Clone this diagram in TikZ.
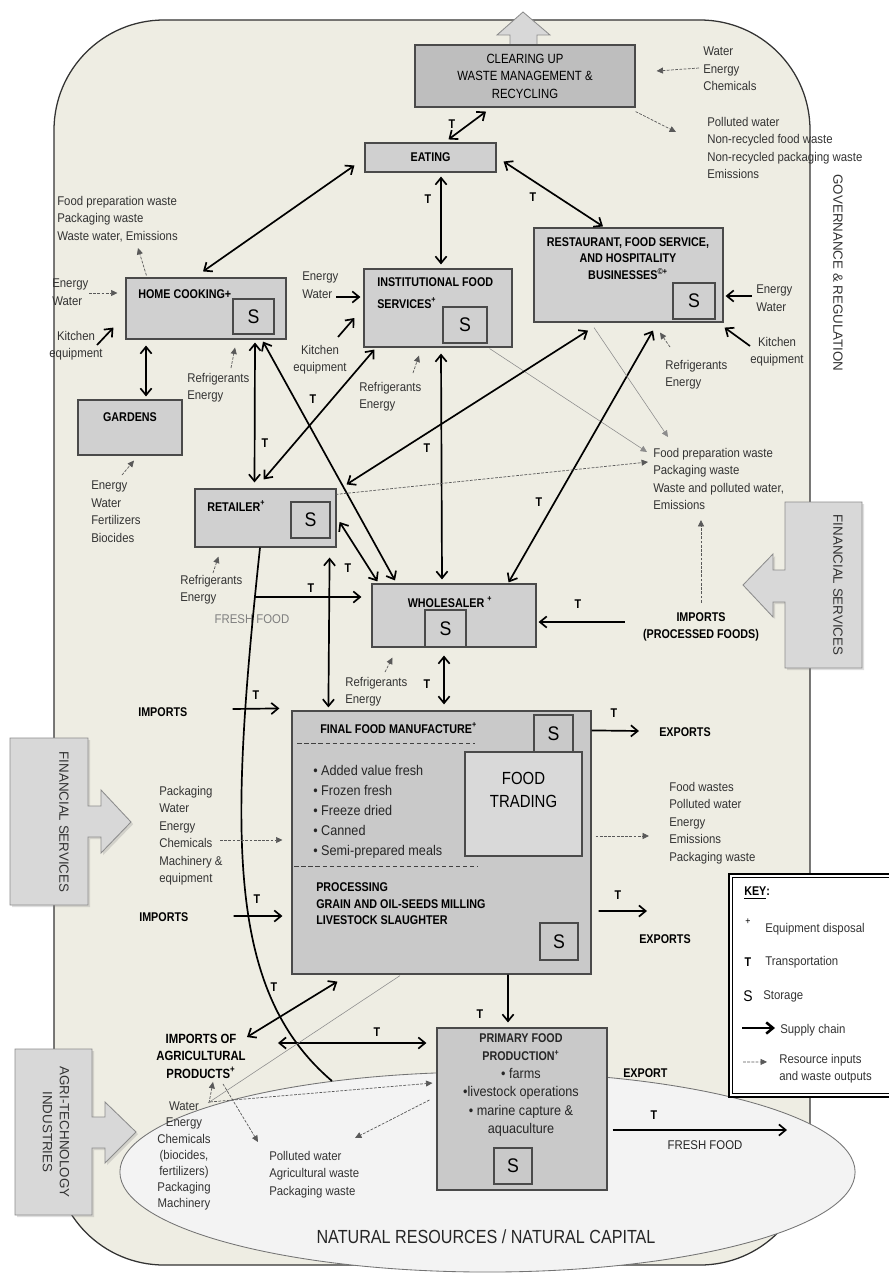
\documentclass[tikz,border=0pt]{standalone}
\usepackage{fontspec}
\setmainfont{Liberation Sans}[FakeStretch=0.9]
\newfontfamily\lblfont{Liberation Sans}[FakeStretch=0.9]
\newfontfamily\bxfont{Liberation Sans}[FakeStretch=0.85]
\newfontfamily\wdfont{Liberation Sans}
\usetikzlibrary{calc,arrows.meta,shapes.geometric,shadows}
\definecolor{panel}{HTML}{EEEDE3}
\definecolor{boxgray}{HTML}{D0D0D0}
\definecolor{cleargray}{HTML}{BEBEBE}
\definecolor{mangray}{HTML}{C9C9C9}
\definecolor{edgegray}{HTML}{4A4A4A}
\definecolor{labelgray}{HTML}{333333}
\definecolor{natfill}{HTML}{F3F3F3}
\definecolor{finfill}{HTML}{D8D8D8}

\begin{document}
\begin{tikzpicture}[x=0.025cm, y=-0.025cm,
    >={Straight Barb[length=1.7mm,width=2.8mm]},
    box/.style={draw=edgegray, line width=0.8pt, fill=boxgray, inner sep=0pt},
    sbox/.style={box, font=\lblfont\fontsize{14}{14}\selectfont},
    title/.style={inner sep=0pt, font=\bxfont\bfseries\fontsize{9}{12}\selectfont},
    lab/.style={inner sep=0pt, align=left, text=labelgray, font=\lblfont\fontsize{9}{12.4}\selectfont},
    tlab/.style={inner sep=0pt, font=\bxfont\bfseries\fontsize{9}{9}\selectfont},
    flow/.style={->, line width=1.2pt},
    both/.style={<->, line width=1.2pt},
    res/.style={-{Triangle[length=1.6mm,width=1.5mm]}, dash pattern=on 2pt off 1pt, line width=0.5pt, draw=black!65},
    faint/.style={-{Triangle[length=1.6mm,width=1.5mm]}, line width=0.4pt, draw=black!45},
    sepline/.style={dash pattern=on 3pt off 2pt, line width=0.8pt, draw=black!75},
    uparrow/.style={draw=black!45, line width=0.6pt, fill=finfill},
    finpanel/.style={uparrow, drop shadow={opacity=0.25, shadow xshift=1.5pt, shadow yshift=-1.5pt}},
    side/.style={inner sep=0pt, rotate=-90, align=center, text=black!80, font=\wdfont\fontsize{9.5}{12}\selectfont}
  ]
    \useasboundingbox (0,0) rectangle (888,1274);
    \fill[white] (0,0) rectangle (888,1274);
    \draw[draw=black!80, line width=0.9pt, fill=panel, rounded corners=2.75cm] (54,20) rectangle (810,1265);
    \node[ellipse, draw=black!55, line width=0.6pt, fill=natfill, minimum width=18.375cm, minimum height=5cm, inner sep=0pt] (nature) at (487.5,1172) {};

    \draw[uparrow] (537,45) -- (537,35) -- (550,35) -- (523,12) -- (497,35) -- (510,35) -- (510,45);
    \draw[finpanel] (10,738) -- (88,738) -- (88,806) -- (101,806) -- (101,790) -- (131,822) -- (101,853) -- (101,837) -- (88,837) -- (88,905) -- (10,905) -- cycle;
    \draw[finpanel] (862,502) -- (785,502) -- (785,570) -- (773,570) -- (773,554) -- (743,585) -- (773,617) -- (773,602) -- (785,602) -- (785,668) -- (862,668) -- cycle;
    \draw[finpanel] (15,1049) -- (92,1049) -- (92,1117) -- (105,1117) -- (105,1102) -- (136,1132) -- (105,1163) -- (105,1148) -- (92,1148) -- (92,1215) -- (15,1215) -- cycle;

    \node[box, fill=cleargray, minimum width=5.5cm, minimum height=1.55cm, align=center, font=\bxfont\fontsize{9.5}{12.4}\selectfont] (clear) at (525,76) {CLEARING UP\\WASTE MANAGEMENT \&\\RECYCLING};
    \node[box, minimum width=3.275cm, minimum height=0.725cm, font=\bxfont\bfseries\fontsize{9}{12}\selectfont] (eating) at (430.5,157.5) {EATING};
    \node[box, minimum width=4cm, minimum height=1.525cm] (home) at (206,308.5) {};
    \node[sbox, minimum width=1.025cm, minimum height=0.875cm] (homeS) at (253.5,316.5) {S};
    \node[box, minimum width=2.6cm, minimum height=1.375cm] (gardens) at (130,427.5) {};
    \node[box, minimum width=3.7cm, minimum height=1.95cm] (inst) at (438,308) {};
    \node[sbox, minimum width=1.1cm, minimum height=0.9cm] (instS) at (465,325) {S};
    \node[box, minimum width=4.725cm, minimum height=2.35cm] (rest) at (628.5,275) {};
    \node[sbox, minimum width=1.05cm, minimum height=0.9cm] (restS) at (694,301) {S};
    \node[box, minimum width=3.525cm, minimum height=1.45cm] (retail) at (265.5,518) {};
    \node[sbox, minimum width=0.975cm, minimum height=0.9cm] (retailS) at (310.5,520) {S};
    \node[box, minimum width=4.1cm, minimum height=1.575cm] (whole) at (454,615.5) {};
    \node[sbox, minimum width=1.025cm, minimum height=0.925cm] (wholeS) at (445.5,628.5) {S};
    \node[box, fill=mangray, minimum width=7.475cm, minimum height=6.575cm] (manuf) at (441.5,842.5) {};
    \node[sbox, fill=mangray, minimum width=0.975cm, minimum height=0.925cm] (manS) at (553.5,733.5) {S};
    \node[box, fill=boxgray!80, minimum width=2.925cm, minimum height=2.6cm] (trading) at (523.5,804) {};
    \node[sbox, fill=mangray, minimum width=0.95cm, minimum height=0.925cm] (procS) at (559,941.5) {S};
    \node[box, fill=mangray, minimum width=4.25cm, minimum height=4.05cm] (primary) at (522,1109) {};
    \node[sbox, fill=mangray, minimum width=0.95cm, minimum height=0.9cm] (primS) at (513,1166) {S};
    \node[draw=black, line width=2pt, fill=white, minimum width=4.8cm, minimum height=5.575cm, inner sep=0pt] (key) at (825,985.5) {};
    \draw[line width=0.6pt] ($(key.north west)+(5,5)$) rectangle ($(key.south east)+(-5,-5)$);

    \node[lab, anchor=north west] (clrIn) at (703,47) {Water\\Energy\\Chemicals};
    \node[lab, anchor=north west] (clrOut) at (707,117) {Polluted water\\Non-recycled food waste\\Non-recycled packaging waste\\Emissions};
    \node[side] (gov) at (838,273) {GOVERNANCE \& REGULATION};

    \node[lab, anchor=north west] (homeOut) at (57,196) {Food preparation waste\\Packaging waste\\Waste water, Emissions};
    \node[lab, anchor=north west] (homeIn) at (52,279) {Energy\\Water};
    \node[lab, align=center, anchor=north] (homeKit) at (76,331) {Kitchen\\equipment};
    \node[lab, anchor=north west] (homeRef) at (187,373) {Refrigerants\\Energy};
    \node[title, anchor=west] (homeT) at (138,294) {HOME COOKING+};
    \node[title] (gardT) at (130,417) {GARDENS};
    \node[lab, anchor=north west] (gardIn) at (91,481) {Energy\\Water\\Fertilizers\\Biocides};

    \node[lab, anchor=north west] (instIn) at (302,272) {Energy\\Water};
    \node[lab, align=center, anchor=north] (instKit) at (320,345) {Kitchen\\equipment};
    \node[lab, anchor=north west] (instRef) at (359,382) {Refrigerants\\Energy};
    \node[title, anchor=north west, align=left, font=\bxfont\bfseries\fontsize{9}{15.6}\selectfont] (instT) at (377,277) {INSTITUTIONAL FOOD\\SERVICES\textsuperscript{+}};

    \node[title, align=center, anchor=north] (restT) at (628,237) {RESTAURANT, FOOD SERVICE,\\AND HOSPITALITY\\BUSINESSES\textsuperscript{©+}};
    \node[lab, anchor=north west] (restIn) at (756,285) {Energy\\Water};
    \node[lab, align=center, anchor=north] (restKit) at (777,337) {Kitchen\\equipment};
    \node[lab, anchor=north west] (restRef) at (665,360) {Refrigerants\\Energy};
    \node[lab, anchor=north west] (midOut) at (653,448) {Food preparation waste\\Packaging waste\\Waste and polluted water,\\Emissions};

    \node[title, anchor=west] (retT) at (207,506) {RETAILER\textsuperscript{+}};
    \node[lab, anchor=north west] (retRef) at (180,575) {Refrigerants\\Energy};
    \node[lab, text=black!50] (fresh) at (252,619) {FRESH FOOD};
    \node[title] (wholeT) at (450,602) {WHOLESALER \textsuperscript{+}};
    \node[lab, anchor=north west] (wholeRef) at (345,677) {Refrigerants\\Energy};
    \node[title, align=center] (impP) at (701,627) {IMPORTS\\(PROCESSED FOODS)};

    \node[title, anchor=west] (impA) at (138,712) {IMPORTS};
    \node[title, anchor=west] (manT) at (320,728) {FINAL FOOD MANUFACTURE\textsuperscript{+}};
    \node[lab, text=black!85, anchor=north west, font=\lblfont\fontsize{10}{14.2}\selectfont] (bullets) at (313,765) {\textbullet\ Added value fresh\\\textbullet\ Frozen fresh\\\textbullet\ Freeze dried\\\textbullet\ Canned\\\textbullet\ Semi-prepared meals};
    \node[inner sep=0pt, align=center, font=\bxfont\fontsize{12.5}{16.4}\selectfont] (tradT) at (523.5,790) {FOOD\\TRADING};
    \node[title, anchor=north west, align=left] (procT) at (316,882) {PROCESSING\\GRAIN AND OIL-SEEDS MILLING\\LIVESTOCK SLAUGHTER};
    \node[title, anchor=west] (exp1) at (659,732) {EXPORTS};
    \node[title, anchor=west] (exp2) at (639,939) {EXPORTS};
    \node[lab, anchor=north west] (manOut) at (669,782) {Food wastes\\Polluted water\\Energy\\Emissions\\Packaging waste};
    \node[title, anchor=west] (impB) at (139,917) {IMPORTS};
    \node[lab, anchor=north west] (manIn) at (159,786) {Packaging\\Water\\Energy\\Chemicals\\Machinery \&\\equipment};

    \node[align=center, inner sep=0pt, anchor=north, text=black!85, font=\lblfont\fontsize{10}{13}\selectfont] (primT) at (521,1033) {{\bxfont\bfseries\fontsize{9}{13}\selectfont PRIMARY FOOD}\\{\bxfont\bfseries\fontsize{9}{13}\selectfont PRODUCTION\textsuperscript{+}}\\\textbullet\ farms\\\textbullet livestock operations\\\textbullet\ marine capture \&\\aquaculture};
    \node[title, anchor=west] (expP) at (623,1073) {EXPORT};
    \node[lab, text=black!85] (freshB) at (705,1145) {FRESH FOOD};
    \coordinate (sea) at (787,1130);

    \node[title, align=center, font=\bxfont\bfseries\fontsize{9.5}{12.4}\selectfont] (agImp) at (201,1056) {IMPORTS OF\\AGRICULTURAL\\PRODUCTS\textsuperscript{+}};
    \node[lab, align=center, font=\lblfont\fontsize{9}{11.4}\selectfont] (agIn) at (184,1156) {Water\\Energy\\Chemicals\\(biocides,\\fertilizers)\\Packaging\\Machinery};
    \node[lab, anchor=north west] (agOut) at (269,1151) {Polluted water\\Agricultural waste\\Packaging waste};
    \node[inner sep=0pt, text=black!85, font=\bxfont\fontsize{13.5}{16}\selectfont] (natT) at (486,1237) {NATURAL RESOURCES / NATURAL CAPITAL};

    \node[side] (finL) at (64,822) {FINANCIAL SERVICES};
    \node[side] (finR) at (838,585) {FINANCIAL SERVICES};
    \node[side] (agri) at (56,1132) {AGRI-TECHNOLOGY\\INDUSTRIES};

    \node[title, anchor=west] (keyTitle) at (744,893) {\underline{KEY}:};
    \node[inner sep=0pt, font=\lblfont\fontsize{7}{7}\selectfont] (keyPlus) at (748,922) {+};
    \node[lab, anchor=west] (keyPlusT) at (765,929) {Equipment disposal};
    \node[tlab] (keyTsym) at (748,962) {T};
    \node[lab, anchor=west] (keyTT) at (765,962) {Transportation};
    \node[inner sep=0pt, font=\lblfont\fontsize{11}{11}\selectfont] (keyS) at (748,996) {S};
    \node[lab, anchor=west] (keySS) at (763,996) {Storage};
    \node[lab, anchor=west] (keySup) at (780,1030) {Supply chain};
    \node[lab, anchor=north west] (keyRes) at (779,1054) {Resource inputs\\and waste outputs};
    \coordinate (keyA) at (742,1028);
    \coordinate (keyB) at (743,1062);

    \foreach \tx/\ty [count=\i] in {452/124, 428/199, 533/197, 265/443, 313/399, 427/448, 539/502, 348/568, 311/588, 578/604, 427/684, 256/695, 614/713, 257/899, 618/895, 274/987, 480/1014, 377/1032, 654/1115}
      \node[tlab] (t\i) at (\tx,\ty) {T};

    \draw[both] ($(eating.north)+(18,-3)$) -- ($(clear.south)+(-39,4)$);
    \draw[res] ($(clrIn.north west)+(-4,21)$) -- ($(clear.east)+(21,-5)$);
    \draw[res] ($(clear.south east)+(0,4)$) -- ($(clrOut.north west)+(-31,15)$);

    \draw[both] ($(home.north)+(-3,-6)$) -- ($(eating.west)+(-10,8)$);
    \draw[both] ($(eating.south)+(10.5,4)$) -- ($(inst.north)+(3,-4)$);
    \draw[both] ($(eating.east)+(7,4)$) -- ($(rest.north)+(-25.5,-1)$);

    \draw[res] ($(home.north west)+(21,-2)$) -- ($(homeOut.north west)+(81,52)$);
    \draw[res] ($(homeIn.north west)+(37,14)$) -- ($(home.west)+(-8,-15.5)$);
    \draw[flow] ($(homeKit.north)+(21,14)$) -- ($(home.south west)+(-12,-12)$);
    \draw[res] ($(homeRef.north west)+(44,-5)$) -- ($(home.south)+(29,8)$);
    \draw[both] ($(home.south)+(-60,6)$) -- ($(gardens.north)+(16,-3)$);
    \draw[res] ($(gardIn.north west)+(31,-6)$) -- ($(gardens.south)+(4,5)$);
    \draw[both] ($(home.south)+(49,3)$) -- ($(retail.north)+(-11,-6)$);
    \draw[both] ($(home.south)+(57,2)$) -- ($(whole.north)+(-59,-3)$);

    \draw[flow] ($(instIn.north west)+(34,25)$) -- ($(inst.west)+(-3,-11)$);
    \draw[flow] ($(instKit.north)+(18,-8)$) -- ($(inst.west)+(-9,10)$);
    \draw[res] ($(instRef.north west)+(54,-9)$) -- ($(inst.south)+(-19,8)$);
    \draw[both] ($(inst.south west)+(11,2)$) -- ($(retail.north)+(-2,-9)$);
    \draw[both] ($(inst.south)+(3,6)$) -- ($(whole.north)+(-12,-4)$);
    \draw[faint] ($(inst.south east)+(-23,1)$) -- ($(midOut.north west)+(-6,4)$);

    \draw[flow] ($(restIn.north west)+(-4,11)$) -- ($(rest.east)+(2,21)$);
    \draw[flow] ($(restKit.north)+(-27,9)$) -- ($(rest.south east)+(1,5)$);
    \draw[res] ($(restRef.north west)+(5,-13)$) -- ($(rest.south)+(31.5,10)$);
    \draw[both] ($(rest.south)+(-40.5,8)$) -- ($(retail.north east)+(10,-4)$);
    \draw[both] ($(rest.south)+(24.5,8)$) -- ($(whole.north east)+(-28,-1)$);
    \draw[faint] ($(rest.south)+(-34.5,5)$) -- ($(midOut.north west)+(15,-11)$);

    \draw[res] ($(retail.north east)+(-1,6)$) -- ($(midOut.north west)+(-5,14)$);
    \draw[res] ($(retRef.north west)+(33,-2)$) -- ($(retail.south west)+(24,9)$);
    \draw[both] ($(retail.east)+(3,4)$) -- ($(whole.north west)+(6,-2)$);
    \coordinate (shore) at (332,1081);
    \coordinate (ffStart) at (254,597);
    \draw[line width=1.2pt] ($(retail.south)+(-5.5,0)$) .. controls (230,830) and (225,990) .. (shore);
    \draw[flow] (ffStart) -- ($(whole.west)+(-10,-18.5)$);
    \draw[both] ($(retail.south east)+(-7,10)$) -- ($(manuf.north west)+(37,-3)$);

    \draw[res] ($(wholeRef.north west)+(40,-5)$) -- ($(whole.south west)+(21,10)$);
    \draw[both] ($(whole.south)+(-10,8)$) -- ($(manuf.north)+(2.5,-6)$);
    \draw[flow] ($(impP.west)+(-18,-5)$) -- ($(whole.east)+(2,6.5)$);
    \draw[res] ($(impP.north)+(0,-10)$) -- ($(midOut.north west)+(48,72)$);

    \draw[sepline] ($(manuf.north west)+(6,33)$) -- ++(178,0);
    \draw[sepline] ($(manuf.north west)+(3,156)$) -- ++(184,0);
    \draw[flow] ($(impA.east)+(45,-3)$) -- ($(manuf.north west)+(-12,-2)$);
    \draw[flow] ($(manuf.north east)+(0,20)$) -- ($(exp1.west)+(-20,-1)$);
    \draw[res] ($(manuf.east)+(4,-6.5)$) -- ($(manOut.north west)+(-20,54)$);
    \draw[flow] ($(manuf.east)+(7,68.5)$) -- ($(exp2.west)+(8,-28)$);
    \draw[flow] ($(impB.east)+(45,-1)$) -- ($(manuf.west)+(-9,73.5)$);
    \draw[res] ($(manIn.north west)+(61,54)$) -- ($(manuf.west)+(-9,-2.5)$);
    \draw[flow] ($(manuf.south)+(66.5,0)$) -- ($(primary.north)+(-14,-5)$);

    \draw[both] ($(agImp.north east)+(1,3.5)$) -- ($(manuf.south west)+(46,7)$);
    \draw[both] ($(agImp.east)+(32,-13)$) -- ($(primary.west)+(-10,-66)$);
    \draw[faint, -] ($(manuf.south)+(-41.5,1)$) -- ($(agIn.north)+(24,1)$);
    \draw[res] ($(agIn.north)+(26,0)$) -- ($(primary.west)+(-4,-26)$);
    \draw[res] ($(agIn.north)+(25,1)$) -- ($(agImp.south)+(12,3.5)$);
    \draw[res] ($(agImp.south)+(22,5.5)$) -- ($(agOut.north west)+(-11,-9)$);
    \draw[res] ($(primary.west)+(-7,-9)$) -- ($(agOut.north west)+(86,-13)$);
    \draw[flow] ($(primary.east)+(5,21)$) -- (sea);

    \draw[->, line width=1.8pt] (keyA) -- ($(keySup.west)+(-5,-2)$);
    \draw[res] (keyB) -- ($(keyRes.west)+(-12,-7)$);
  \end{tikzpicture}
\end{document}
